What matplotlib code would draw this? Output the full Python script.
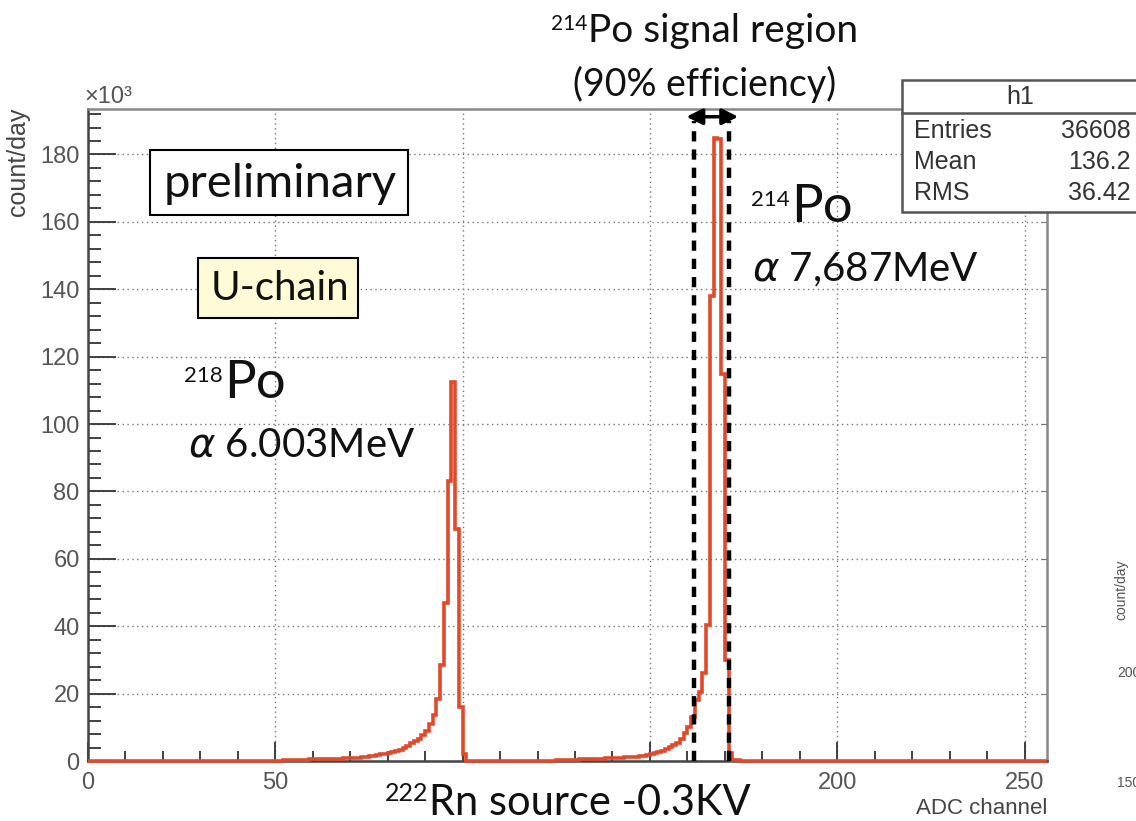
import numpy as np
import matplotlib
matplotlib.use("Agg")
import matplotlib.pyplot as plt
from matplotlib.patches import Rectangle
from matplotlib.lines import Line2D
from matplotlib.ticker import MultipleLocator

W, H = 1136, 821

# histogram content, count/day in units of 10^3, one bin per ADC channel
po218_start = 52
po218_counts = [0.3, 0.3, 0.35, 0.35, 0.4, 0.4, 0.4, 0.45, 0.5, 0.5,
                0.5, 0.55, 0.6, 0.6, 0.65, 0.7, 0.75, 0.8, 0.9, 0.9,
                1.0, 1.1, 1.2, 1.4, 1.6, 1.8, 2.0, 2.2, 2.4, 2.6,
                2.9, 3.4, 4.0, 4.6, 5.2, 5.8, 6.5, 7.6, 9.0, 11.0,
                13.6, 18.5, 28.5, 47.0, 83.0, 112.5, 69.0, 16.0, 2.0]
po214_start = 125
po214_counts = [0.3, 0.3, 0.35, 0.35, 0.4, 0.4, 0.45, 0.5, 0.5, 0.55,
                0.6, 0.65, 0.7, 0.75, 0.8, 0.85, 0.9, 1.0, 1.05, 1.1,
                1.2, 1.3, 1.4, 1.5, 1.7, 2.0, 2.3, 2.7, 3.1, 3.5,
                4.1, 4.7, 5.4, 6.5, 8.2, 10.0, 13.0, 18.0, 20.5, 26.0,
                40.5, 138.0, 185.0, 184.5, 115.0, 30.0, 2.4, 0.4, 0.2]
n_channels = 256
signal_window = [161.7, 171.2]

stats_names = ["Entries", "Mean", "RMS"]
stats_values = ["36608", "136.2", "36.42"]

counts = np.zeros(n_channels)
counts[po218_start:po218_start + len(po218_counts)] = po218_counts
counts[po214_start:po214_start + len(po214_counts)] = po214_counts
edges = np.arange(n_channels + 1)

plt.rcParams["mathtext.fontset"] = "custom"
plt.rcParams["mathtext.rm"] = "Lato"
plt.rcParams["mathtext.it"] = "DejaVu Sans:italic"


def fx(x):
    return x / W


def fy(y):
    return 1 - y / H


fig = plt.figure(figsize=(W / 100, H / 100), dpi=100)
renderer = fig.canvas.get_renderer()
ax = fig.add_axes([fx(88), fy(761), fx(1047) - fx(88), fy(109) - fy(761)])

ax.stairs(counts, edges, baseline=None, color="#e2492b", lw=2.6,
          zorder=3, clip_on=False)
ax.set_xlim(0, 256)
ax.set_ylim(0, 193.5)

ax.xaxis.set_major_locator(MultipleLocator(50))
ax.xaxis.set_minor_locator(MultipleLocator(10))
ax.yaxis.set_major_locator(MultipleLocator(20))
ax.yaxis.set_minor_locator(MultipleLocator(4))
ax.tick_params(which="both", direction="in", colors="#333333",
               labelcolor="#555555", labelsize=17, width=1.3)
ax.tick_params(axis="x", which="major", length=14, pad=8)
ax.tick_params(axis="x", which="minor", length=7)
ax.tick_params(axis="y", which="major", length=20, pad=6)
ax.tick_params(axis="y", which="minor", length=9)
for lab in ax.get_xticklabels() + ax.get_yticklabels():
    lab.set_fontfamily("Liberation Sans")

sec = ax.secondary_yaxis("right")
sec.yaxis.set_major_locator(MultipleLocator(20))
sec.tick_params(direction="in", length=4, labelright=False, colors="#777777")

ax.grid(True, which="major", ls=(0, (1, 2.5)), color="#777777", lw=1)
for side in ["left", "bottom"]:
    ax.spines[side].set_color("#444444")
    ax.spines[side].set_linewidth(1.8)
for side in ["top", "right"]:
    ax.spines[side].set_color("#888888")
    ax.spines[side].set_linewidth(1.8)
sec.spines["right"].set_visible(False)

# signal window
for xv in signal_window:
    ax.vlines(xv, 0, 190, colors="black", lw=3.2,
              linestyles=[(0, (2.3, 1.8))], zorder=4)
ax.annotate("", xy=(159.0, 191.2), xytext=(174.3, 191.2),
            arrowprops=dict(arrowstyle="<|-|>", color="black", lw=2.5,
                            mutation_scale=24),
            annotation_clip=False, zorder=5)

# axis titles in ROOT style
fig.text(fx(84), fy(97), "×10³", fontsize=17, color="#555555",
         family="Liberation Sans", va="center", ha="left")
fig.text(fx(18), fy(108), "count/day", fontsize=18, color="#444444",
         family="Liberation Sans", rotation=90, va="top", ha="center")
fig.text(fx(1047), fy(808), "ADC channel", fontsize=16, color="#444444",
         family="Liberation Sans", va="center", ha="right")

# stats box
fig.add_artist(Rectangle((fx(902), fy(212)), fx(260), fy(80) - fy(212),
                         transform=fig.transFigure, facecolor="white",
                         edgecolor="#555555", lw=1.8, zorder=10))
fig.add_artist(Line2D([fx(902), 1], [fy(113), fy(113)],
                      transform=fig.transFigure, color="#555555", lw=1.8,
                      zorder=11))
fig.text(fx(1020), fy(97), "h1", fontsize=18, color="#333333",
         family="Liberation Sans", ha="center", va="center", zorder=12)
for i, (name, val) in enumerate(zip(stats_names, stats_values)):
    yy = fy(131 + 31 * i)
    fig.text(fx(914), yy, name, fontsize=18, color="#333333",
             family="Liberation Sans", ha="left", va="center", zorder=12)
    fig.text(fx(1131), yy, val, fontsize=18, color="#333333",
             family="Liberation Sans", ha="right", va="center", zorder=12)

# annotations
txt = dict(family="Lato", color="#111111", zorder=7)


def sup_label(x, ybase, sup, main, sup_size, main_size, rise, center=False):
    t1 = fig.text(0, fy(ybase - rise), sup, fontsize=sup_size, ha="left",
                  va="baseline", **txt)
    t2 = fig.text(0, fy(ybase), main, fontsize=main_size, ha="left",
                  va="baseline", **txt)
    w1 = t1.get_window_extent(renderer).width
    w2 = t2.get_window_extent(renderer).width
    start = x - (w1 + w2) / 2 if center else x
    t1.set_x(fx(start))
    t2.set_x(fx(start + w1 + 1))


fig.add_artist(Rectangle((fx(150), fy(215)), fx(258), fy(150) - fy(215),
                         transform=fig.transFigure, facecolor="white",
                         edgecolor="black", lw=1.5, zorder=6))
fig.text(fx(280), fy(184), "preliminary", fontsize=34, ha="center",
         va="center", **txt)
fig.add_artist(Rectangle((fx(198), fy(318)), fx(160), fy(258) - fy(318),
                         transform=fig.transFigure, facecolor="#fffbd6",
                         edgecolor="black", lw=1.5, zorder=6))
fig.text(fx(280), fy(288), "U-chain", fontsize=29, ha="center",
         va="center", **txt)

sup_label(184, 398, "218", "Po", 16, 38, 16)
fig.text(fx(188), fy(456), r"$\alpha$ 6.003MeV", fontsize=29, ha="left",
         va="baseline", **txt)
sup_label(751, 222, "214", "Po", 16, 38, 16)
fig.text(fx(752), fy(281), r"$\alpha$ 7,687MeV", fontsize=29, ha="left",
         va="baseline", **txt)
sup_label(704, 42, "214", "Po signal region", 15, 28, 12, center=True)
fig.text(fx(705), fy(96), "(90% efficiency)", fontsize=27,
         ha="center", va="baseline", **txt)

# the source label sits on a white patch that hides the 100 and 150 labels
fig.add_artist(Rectangle((fx(378), fy(821)), fx(380), fy(766) - fy(821),
                         transform=fig.transFigure, facecolor="white",
                         edgecolor="none", zorder=6))
sup_label(567, 815, "222", "Rn source -0.3KV", 18, 30, 14, center=True)

# fragments of a neighbouring plot at the right edge
fig.text(fx(1121), fy(590), "count/day", fontsize=10, color="#555555",
         family="Liberation Sans", rotation=90, ha="center", va="center")
fig.text(fx(1117), fy(673), "200", fontsize=10, color="#555555",
         family="Liberation Sans", ha="left", va="center")
fig.text(fx(1117), fy(783), "150", fontsize=10, color="#555555",
         family="Liberation Sans", ha="left", va="center")

fig.savefig("out.png", dpi=100)
